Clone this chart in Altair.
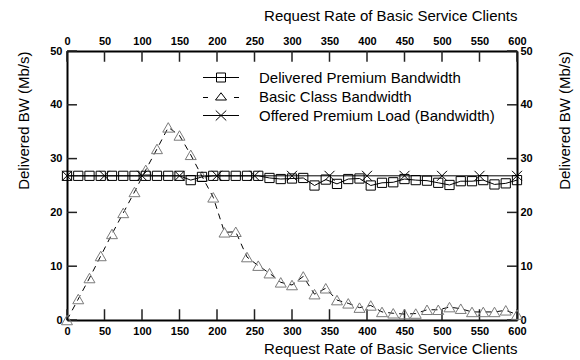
import altair as alt
import pandas as pd

# ---------------- data ----------------
S1 = "Delivered Premium Bandwidth"
S2 = "Basic Class Bandwidth"
S3 = "Offered Premium Load (Bandwidth)"

x15 = [0, 15, 30, 45, 60, 75, 90, 105, 120, 135, 150, 165, 180, 195, 210, 225,
       240, 255, 270, 285, 300, 315, 330, 345, 360, 375, 390, 405, 420, 435, 450,
       465, 480, 495, 510, 525, 540, 555, 570, 585, 600]
delivered_premium = [26.8, 26.8, 26.8, 26.8, 26.8, 26.8, 26.8, 26.8, 26.8, 26.8,
                     26.8, 26.0, 26.6, 26.8, 26.8, 26.8, 26.8, 26.8, 26.4, 26.2,
                     26.3, 26.4, 25.0, 26.1, 25.3, 26.2, 26.3, 25.0, 25.5, 25.6,
                     26.2, 26.0, 25.9, 25.5, 25.1, 25.8, 25.8, 26.0, 25.2, 25.4, 26.0]
basic_bw = [0.0, 3.9, 7.8, 11.9, 16.0, 19.9, 23.8, 27.9, 31.8, 35.8, 34.3, 30.7,
            26.7, 22.8, 16.3, 16.4, 11.7, 10.1, 8.7, 7.0, 6.5, 8.1, 4.8, 5.9, 3.7,
            3.1, 2.3, 2.7, 1.5, 1.25, 1.1, 1.2, 1.9, 1.9, 2.4, 2.1, 1.5, 1.5, 1.5,
            1.8, 1.0]
x50 = [0, 50, 100, 150, 200, 250, 300, 350, 400, 450, 500, 550, 600]
offered_premium = [26.8, 26.8, 26.8, 26.8, 26.8, 26.8, 26.8, 26.8, 26.8, 26.8,
                   26.8, 26.8, 26.8]

x_ticks = [0, 50, 100, 150, 200, 250, 300, 350, 400, 450, 500, 550, 600]
y_ticks = [0, 10, 20, 30, 40, 50]

X_TITLE = "Request Rate of Basic Service Clients"
Y_TITLE = "Delivered BW (Mb/s)"

df1 = pd.DataFrame({"x": x15, "y": delivered_premium, "series": S1})
df2 = pd.DataFrame({"x": x15, "y": basic_bw, "series": S2})
df3 = pd.DataFrame({"x": x50, "y": offered_premium, "series": S3})
df_all = pd.concat([df1, df2, df3], ignore_index=True)
dfx = pd.DataFrame({"t": x_ticks})
dfy = pd.DataFrame({"t": y_ticks})

FONT = "Liberation Sans"
xs = alt.Scale(domain=[0, 600], nice=False, zero=False)
ys = alt.Scale(domain=[0, 50], nice=False, zero=False)

common_axis = dict(tickSize=0, grid=False, labelFontWeight="bold", labelFontSize=11,
                   labelColor="black", titleColor="black", titleFontSize=15,
                   titleFontWeight="normal", domainColor="black", domainWidth=2,
                   labelFont=FONT, titleFont=FONT, titleAnchor="end", labelFlush=False)

ax_bottom = alt.Axis(orient="bottom", values=x_ticks, title=X_TITLE, labelPadding=5,
                     titlePadding=5, **common_axis)
ax_top = alt.Axis(orient="top", values=x_ticks, title=X_TITLE, labelPadding=5,
                  titlePadding=12, **common_axis)
ax_left = alt.Axis(orient="left", values=y_ticks, title=Y_TITLE, labelPadding=5,
                   titlePadding=18, **common_axis)
ax_right = alt.Axis(orient="right", values=y_ticks, title=Y_TITLE, labelPadding=3,
                    titlePadding=40, titleAngle=270, **common_axis)

# ---------------- lines ----------------
line1 = alt.Chart(df1).mark_line(color="black", strokeWidth=1).encode(
    x=alt.X("x:Q", scale=xs, axis=ax_bottom),
    y=alt.Y("y:Q", scale=ys, axis=ax_left),
)
line2 = alt.Chart(df2).mark_line(color="black", strokeWidth=1, strokeDash=[6, 5]).encode(
    x=alt.X("x:Q", scale=xs, axis=None),
    y=alt.Y("y:Q", scale=ys, axis=None),
)
line3 = alt.Chart(df3).mark_line(color="black", strokeWidth=1).encode(
    x=alt.X("x:Q", scale=xs, axis=ax_top),
    y=alt.Y("y:Q", scale=ys, axis=ax_right),
)

# ---------------- markers ----------------
pts1 = alt.Chart(df1).mark_point(shape="square", size=85, filled=False, color="black",
                                 strokeWidth=1, opacity=1).encode(
    x=alt.X("x:Q", scale=xs, axis=None), y=alt.Y("y:Q", scale=ys, axis=None))
pts2 = alt.Chart(df2).mark_point(shape="triangle-up", size=120, filled=False,
                                 color="#7a7a7a", strokeWidth=1, opacity=1).encode(
    x=alt.X("x:Q", scale=xs, axis=None), y=alt.Y("y:Q", scale=ys, axis=None))
pts3 = alt.Chart(df3).mark_point(shape="M-1,-1L1,1M1,-1L-1,1", size=100, filled=False,
                                 color="black", strokeWidth=1, opacity=1).encode(
    x=alt.X("x:Q", scale=xs, axis=None), y=alt.Y("y:Q", scale=ys, axis=None))

# ---------------- legend (invisible carrier layer) ----------------
P1 = "M-3.6,0H3.6M-0.9,-0.9H0.9V0.9H-0.9Z"
P2 = "M-3.6,0.2H-2.6M2.6,0.2H3.6M0,-0.75L1.1,0.7H-1.1Z"
P3 = "M-3.6,0H3.6M-1.05,-1L1.05,1M1.05,-1L-1.05,1"
legend_layer = alt.Chart(df_all).mark_point(opacity=0, filled=False, color="black",
                                            size=100, strokeWidth=1).encode(
    x=alt.X("x:Q", scale=xs, axis=None),
    y=alt.Y("y:Q", scale=ys, axis=None),
    shape=alt.Shape("series:N",
                    scale=alt.Scale(domain=[S1, S2, S3], range=[P1, P2, P3]),
                    sort=[S1, S2, S3],
                    legend=alt.Legend(title=None, orient="none", legendX=146.5, legendY=19,
                                      labelFontSize=15, labelFont=FONT, labelColor="black",
                                      labelOffset=30.5, rowPadding=3, symbolSize=100,
                                      symbolStrokeWidth=1, symbolStrokeColor="black",
                                      symbolOpacity=1, padding=0, labelLimit=400)),
)

# ---------------- inward ticks ----------------
tick_style = dict(color="#222222", strokeWidth=1.5)
t_bottom = alt.Chart(dfx).mark_rule(**tick_style).encode(
    x=alt.X("t:Q", scale=xs, axis=None),
    y=alt.YDatum(0, scale=ys, axis=None), y2=alt.Y2Datum(2))
t_top = alt.Chart(dfx).mark_rule(**tick_style).encode(
    x=alt.X("t:Q", scale=xs, axis=None),
    y=alt.YDatum(50, scale=ys, axis=None), y2=alt.Y2Datum(48))
t_left = alt.Chart(dfy).mark_rule(**tick_style).encode(
    y=alt.Y("t:Q", scale=ys, axis=None),
    x=alt.XDatum(0, scale=xs, axis=None), x2=alt.X2Datum(13.3))
t_right = alt.Chart(dfy).mark_rule(**tick_style).encode(
    y=alt.Y("t:Q", scale=ys, axis=None),
    x=alt.XDatum(600, scale=xs, axis=None), x2=alt.X2Datum(586.7))

chart = alt.layer(
    t_bottom, t_top, t_left, t_right,
    line2, line1, line3, pts2, pts1, pts3, legend_layer,
).resolve_axis(x="independent", y="independent").properties(
    width=450, height=269,
    autosize=alt.AutoSizeParams(type="none"),
    padding={"left": 67, "top": 51, "right": 63, "bottom": 40},
).configure_view(stroke=None).configure(font=FONT, background="white")

chart.save("out.html", embed_options={"renderer": "svg", "actions": False})
